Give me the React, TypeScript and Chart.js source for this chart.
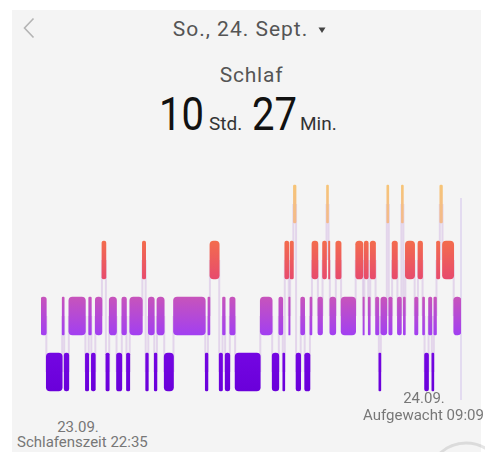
import React, { useEffect, useRef } from 'react';
import { Chart, registerables } from 'chart.js';

Chart.register(...registerables);

// Sleep stages (rows of the hypnogram)
const stageLabels = ['Wach', 'REM', 'Leicht', 'Tief'];

// Minutes after bedtime (22:35) at which each segment starts
const segmentStarts = [
  0, 8, 32, 35, 42, 67, 72, 76, 82, 92, 98, 103, 114, 122, 129, 134, 153, 158, 162, 171,
  175, 186, 200, 248, 252, 255, 269, 274, 278, 285, 293, 331, 349, 359, 365, 368, 374, 376, 381, 385,
  392, 398, 406, 409, 418, 425, 431, 434, 436, 445, 453, 475, 486, 488, 494, 497, 505, 510, 513, 522,
  525, 530, 538, 544, 547, 550, 564, 569, 576, 579, 585, 590, 593, 597, 602, 606, 623,
];
// Stage of each segment
const segmentStages = [
  'Leicht', 'Tief', 'Leicht', 'Tief', 'Leicht', 'Tief', 'Leicht', 'Tief', 'Leicht', 'REM', 'Tief', 'Leicht', 'Tief', 'Leicht', 'Tief', 'Leicht', 'REM', 'Tief', 'Leicht', 'Tief',
  'Leicht', 'Tief', 'Leicht', 'Tief', 'Leicht', 'REM', 'Tief', 'Leicht', 'Tief', 'Leicht', 'Tief', 'Leicht', 'Tief', 'Leicht', 'Tief', 'REM', 'Leicht', 'REM', 'Wach', 'Tief',
  'Leicht', 'Tief', 'Leicht', 'REM', 'Leicht', 'REM', 'Wach', 'REM', 'Leicht', 'REM', 'Leicht', 'REM', 'Leicht', 'REM', 'Leicht', 'REM', 'Leicht', 'Tief', 'Leicht', 'Wach',
  'Leicht', 'REM', 'Leicht', 'Wach', 'Leicht', 'REM', 'Leicht', 'REM', 'Leicht', 'Tief', 'Leicht', 'Tief', 'Leicht', 'REM', 'Wach', 'REM', 'Leicht',
];
const sleepEnd = 634; // 09:09
const wakeMarker = 634;
const axisMax = 634;

const bottomLabels = ['23.09.', 'Schlafenszeit 22:35', '24.09.', 'Aufgewacht 09:09'];

const stageTop = ['#f6c477', '#f36c4d', '#c754bb', '#7406e2'];
const stageBottom = ['#f3b98c', '#e74b6d', '#a23ff1', '#6a00da'];

const FONT = 'Roboto, "Noto Sans", sans-serif';

function Txt(props: {
  text: string; x: number; base: number; size: number; color: string;
  align?: 'left' | 'center' | 'right'; sx?: number; ls?: number;
}) {
  const { text, x, base, size, color, align = 'left', sx = 1, ls = 0 } = props;
  const top = base - 0.842 * size;
  let tr = '';
  if (align === 'center') tr = 'translateX(-50%) ';
  if (align === 'right') tr = 'translateX(-100%) ';
  tr += `scaleX(${sx})`;
  return (
    <div
      style={{
        position: 'absolute', left: x, top, fontSize: size, lineHeight: `${size}px`,
        color, fontFamily: FONT, whiteSpace: 'nowrap', transform: tr,
        transformOrigin: align === 'center' ? 'center' : align === 'right' ? 'right' : 'left',
        letterSpacing: ls,
      }}
    >
      {text}
    </div>
  );
}

export default function App() {
  const ref = useRef<HTMLCanvasElement>(null);

  useEffect(() => {
    document.body.style.margin = '0';
    const canvas = ref.current;
    if (!canvas) return;
    const segs = segmentStages.map((s, i) => ({
      y: s,
      x: [segmentStarts[i], i + 1 < segmentStarts.length ? segmentStarts[i + 1] : sleepEnd],
    }));

    let grad: CanvasGradient | null = null;
    const fill = (c: any) => {
      const chart = c.chart;
      const area = chart.chartArea;
      const ys = chart.scales.y;
      if (!area || !ys) return '#a040f0';
      if (!grad) {
        const g = chart.ctx.createLinearGradient(0, area.top, 0, area.bottom);
        const h = area.bottom - area.top;
        stageLabels.forEach((_, i) => {
          const cy = ys.getPixelForValue(i);
          g.addColorStop(Math.max(0, Math.min(1, (cy - 19 - area.top) / h)), stageTop[i]);
          g.addColorStop(Math.max(0, Math.min(1, (cy + 19 - area.top) / h)), stageBottom[i]);
        });
        grad = g;
      }
      return grad;
    };

    const connectors = {
      id: 'connectors',
      beforeDatasetsDraw(chart: any) {
        const { ctx, scales, chartArea } = chart;
        const x = scales.x, y = scales.y;
        ctx.save();
        ctx.lineWidth = 2;
        ctx.strokeStyle = 'rgba(214, 188, 228, 0.55)';
        for (let i = 1; i < segmentStages.length; i++) {
          const px = x.getPixelForValue(segmentStarts[i]);
          const a = stageLabels.indexOf(segmentStages[i - 1]);
          const b = stageLabels.indexOf(segmentStages[i]);
          ctx.beginPath();
          ctx.moveTo(px, y.getPixelForValue(a));
          ctx.lineTo(px, y.getPixelForValue(b));
          ctx.stroke();
        }
        const wx = x.getPixelForValue(wakeMarker);
        ctx.lineWidth = 1.5;
        ctx.strokeStyle = 'rgba(205, 188, 235, 0.6)';
        ctx.beginPath();
        ctx.moveTo(wx, y.getPixelForValue(0) - 6);
        ctx.lineTo(wx, chartArea.bottom);
        ctx.stroke();
        ctx.restore();
      },
    };

    const chart = new Chart(canvas, {
      type: 'bar',
      data: {
        labels: stageLabels,
        datasets: [
          {
            data: segs as any,
            backgroundColor: fill as any,
            borderSkipped: false,
            borderRadius: 4,
            barThickness: 38,
          },
        ],
      },
      options: {
        indexAxis: 'y',
        responsive: false,
        animation: false,
        devicePixelRatio: 1,
        layout: { padding: { left: 20, right: 20, top: 6, bottom: 10 } },
        plugins: { legend: { display: false }, tooltip: { enabled: false } },
        scales: {
          x: { type: 'linear', min: 0, max: axisMax, display: false },
          y: { type: 'category', display: false },
        },
      },
      plugins: [connectors],
    });
    return () => chart.destroy();
  }, []);

  return (
    <div style={{ position: 'fixed', left: 0, top: 0, width: 485, height: 452, background: '#ffffff', overflow: 'hidden' }}>
      <div style={{ position: 'absolute', left: 12, top: 10, width: 469, height: 442, background: '#f4f4f4' }} />
      <svg width={485} height={452} style={{ position: 'absolute', left: 0, top: 0 }}>
        <polyline points="33.5,18.5 24.5,28 33.5,37.5" fill="none" stroke="#b4b4b4" strokeWidth={1.6} />
        <polygon points="318.5,27.5 325.5,27.5 322,33" fill="#444" />
        <circle cx={466} cy={481} r={38} fill="none" stroke="rgba(0,0,0,0.10)" strokeWidth={3} />
      </svg>
      <Txt text="So., 24. Sept." x={240.5} base={37} size={21} color="#555" align="center" ls={1} />
      <Txt text="Schlaf" x={251.5} base={83} size={21} color="#555" align="center" ls={0.8} />
      <Txt text="10" x={159} base={130} size={46} color="#111" sx={0.87} />
      <Txt text="Std." x={209} base={130} size={19} color="#333" />
      <Txt text="27" x={252} base={130} size={46} color="#111" sx={0.87} />
      <Txt text="Min." x={300} base={130} size={19} color="#333" />
      <canvas
        ref={ref}
        width={460}
        height={240}
        style={{ position: 'absolute', left: 21, top: 170, width: 460, height: 240 }}
      />
      <Txt text={bottomLabels[0]} x={78} base={433} size={15} color="#777" align="center" />
      <Txt text={bottomLabels[1]} x={17} base={448} size={15} color="#777" />
      <Txt text={bottomLabels[2]} x={424} base={404} size={15} color="#777" align="center" />
      <Txt text={bottomLabels[3]} x={363} base={421} size={15} color="#777" />
    </div>
  );
}
